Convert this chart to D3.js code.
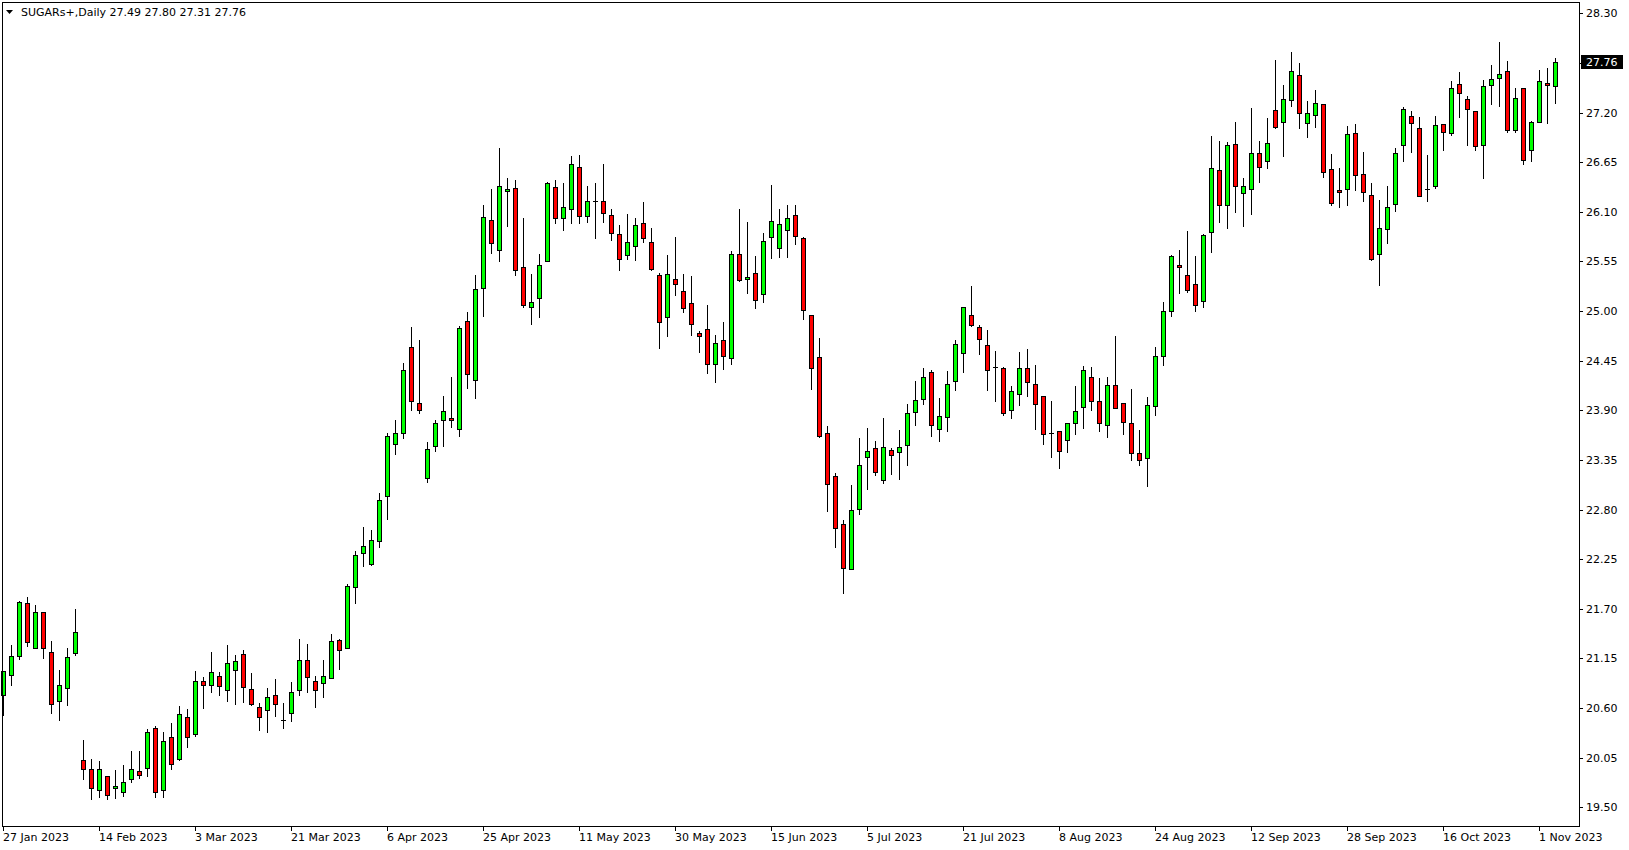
<!DOCTYPE html>
<html><head><meta charset="utf-8">
<script src="https://cdn.jsdelivr.net/npm/d3@7"></script>
<style>body{margin:0;background:#fff;overflow:hidden}svg{display:block}</style>
</head><body><svg id="c" width="1629" height="850"></svg>
<script>
const symbol = "SUGARs+,Daily";
const opens = [20.74,20.97,21.18,21.76,21.27,21.66,21.22,20.68,20.82,21.21,
20.02,19.93,19.69,19.85,19.71,19.67,19.81,19.90,19.94,20.38,
19.69,20.28,20.04,20.50,20.31,20.90,20.85,20.95,20.80,21.02,
21.20,20.81,20.61,20.58,20.75,20.47,20.55,20.80,21.13,20.90,
20.88,20.93,21.35,21.26,21.94,22.32,22.20,22.45,22.95,23.53,
23.65,24.60,23.98,23.15,23.50,23.79,23.81,23.69,24.89,24.24,
25.25,26.01,25.68,26.33,26.36,25.49,25.05,25.15,25.56,26.38,
26.03,26.13,26.60,26.05,26.22,26.22,26.06,25.85,25.62,25.72,
25.98,25.76,25.40,24.93,25.36,25.22,25.09,24.76,24.80,24.41,
24.68,24.48,25.63,25.35,25.42,25.19,25.82,25.70,25.90,26.07,
25.81,24.96,24.49,23.65,23.17,22.64,22.14,22.81,23.38,23.48,
23.13,23.46,23.44,23.51,23.88,24.03,24.33,23.69,23.83,24.23,
24.53,24.96,24.82,24.62,24.38,24.37,23.90,24.08,24.37,24.19,
24.06,23.65,23.67,23.57,23.76,23.94,24.27,24.00,23.74,24.18,
23.98,23.76,23.43,23.37,23.95,24.50,25.00,25.51,25.40,25.30,
25.11,25.88,26.56,26.17,26.85,26.31,26.35,26.75,26.66,27.23,
27.10,27.34,27.62,27.08,27.17,27.29,26.57,26.34,26.35,26.97,
26.52,26.29,25.63,25.91,26.19,26.84,27.16,27.03,26.35,26.39,
27.07,26.97,27.52,27.35,27.22,26.84,27.50,27.58,27.66,27.01,
27.47,26.79,27.09,27.53,27.49];
const highs = [21.01,21.30,21.79,21.83,21.74,21.66,21.34,21.02,21.27,21.70,
20.25,20.04,20.01,19.85,19.91,19.97,20.12,20.12,20.37,20.40,
20.34,20.43,20.62,20.59,21.01,20.94,21.22,21.00,21.30,21.19,
21.24,20.99,20.66,20.82,20.92,20.66,20.89,21.36,21.31,20.96,
21.13,21.42,21.37,21.97,22.34,22.61,22.57,22.98,23.65,23.79,
24.42,24.82,24.68,23.55,23.79,24.06,24.27,24.83,24.99,25.40,
26.18,26.35,26.81,26.47,26.45,26.03,25.41,25.63,26.43,26.45,
26.42,26.72,26.73,26.39,26.42,26.63,26.13,25.95,26.08,26.03,
26.21,25.92,25.42,25.62,25.82,25.41,25.39,24.78,25.07,24.74,
24.88,25.67,26.13,25.99,25.61,25.87,26.40,26.13,26.18,26.17,
25.82,24.96,24.70,23.73,23.21,22.68,23.07,23.59,23.70,23.56,
23.81,23.48,23.68,23.97,24.22,24.37,24.35,24.04,24.34,24.68,
25.05,25.28,24.85,24.79,24.56,24.38,24.17,24.55,24.58,24.40,
24.06,24.00,23.67,23.76,24.17,24.39,24.38,24.26,24.27,24.72,
23.98,24.14,23.68,24.05,24.60,25.10,25.62,25.68,25.89,25.61,
25.85,26.94,26.88,26.87,27.09,26.47,27.25,26.89,27.14,27.78,
27.50,27.87,27.75,27.33,27.45,27.29,26.74,26.58,27.05,27.07,
26.76,26.42,26.23,26.39,26.81,27.26,27.22,27.15,26.73,27.16,
27.07,27.55,27.65,27.38,27.22,27.56,27.73,27.98,27.77,27.47,
27.47,27.11,27.67,27.69,27.80];
const lows = [20.52,20.85,21.14,21.29,21.27,21.15,20.55,20.47,20.63,21.19,
19.81,19.59,19.61,19.59,19.60,19.62,19.78,19.83,19.85,19.61,
19.61,19.93,20.02,20.17,20.29,20.60,20.78,20.74,20.68,20.64,
20.67,20.63,20.36,20.33,20.51,20.38,20.46,20.74,20.78,20.61,
20.72,20.93,21.03,21.26,21.76,22.17,22.19,22.39,22.69,23.42,
23.59,23.90,23.87,23.10,23.45,23.50,23.71,23.61,24.15,24.04,
24.94,25.64,25.55,25.94,25.40,25.05,24.86,24.93,25.56,25.98,
25.90,25.98,25.98,25.99,25.81,25.99,25.79,25.45,25.58,25.57,
25.76,25.45,24.59,24.72,25.18,24.99,24.73,24.55,24.31,24.21,
24.36,24.41,25.33,25.20,25.03,25.10,25.59,25.60,25.60,25.74,
24.91,24.14,23.60,22.78,22.38,21.87,22.14,22.75,23.03,23.18,
23.09,23.19,23.14,23.29,23.74,23.97,23.61,23.56,23.67,24.13,
24.32,24.83,24.52,24.13,24.00,23.85,23.82,23.96,24.06,23.69,
23.53,23.38,23.26,23.44,23.64,23.70,23.90,23.67,23.60,23.92,
23.64,23.35,23.29,23.06,23.85,24.40,24.95,25.20,25.21,25.00,
25.04,25.65,25.99,25.92,26.10,25.94,26.08,26.43,26.59,27.03,
26.72,27.27,27.03,26.93,27.04,26.49,26.18,26.15,26.18,26.34,
26.22,25.57,25.29,25.75,26.11,26.66,26.76,26.28,26.22,26.36,
26.78,26.95,27.15,26.84,26.78,26.47,27.30,27.27,26.98,26.98,
26.63,26.66,27.09,27.08,27.31];
const closes = [21.01,21.18,21.78,21.33,21.66,21.26,20.64,20.86,21.17,21.44,
19.92,19.71,19.92,19.64,19.74,19.78,19.93,19.86,20.33,19.67,
20.23,19.98,20.53,20.28,20.90,20.85,21.00,20.84,21.10,21.12,
20.83,20.64,20.50,20.72,20.64,20.47,20.78,21.13,20.94,20.80,
20.95,21.34,21.24,21.95,22.30,22.40,22.46,22.91,23.61,23.65,
24.35,24.00,23.90,23.47,23.76,23.89,23.79,24.81,24.30,25.24,
26.04,25.75,26.39,26.35,25.46,25.07,25.10,25.51,26.42,26.03,
26.15,26.63,26.05,26.22,26.22,26.09,25.86,25.58,25.77,25.95,
25.81,25.47,24.88,25.41,25.30,25.03,24.86,24.72,24.41,24.65,
24.50,25.63,25.34,25.38,25.12,25.78,26.00,25.97,26.03,25.83,
25.01,24.37,23.61,23.08,22.59,22.15,22.80,23.29,23.45,23.22,
23.49,23.40,23.49,23.87,24.01,24.27,23.74,23.84,24.19,24.63,
25.05,24.85,24.69,24.35,24.38,23.87,24.11,24.37,24.21,23.97,
23.64,23.65,23.45,23.76,23.89,24.35,24.00,23.76,24.18,23.93,
23.77,23.43,23.35,23.96,24.50,25.00,25.61,25.49,25.23,25.07,
25.84,26.59,26.18,26.84,26.39,26.39,26.75,26.60,26.86,27.04,
27.35,27.66,27.19,27.19,27.31,26.54,26.20,26.32,26.96,26.51,
26.32,25.58,25.92,26.15,26.75,27.24,27.08,26.28,26.35,27.06,
26.98,27.47,27.42,27.24,26.83,27.49,27.57,27.63,27.01,27.36,
26.67,27.09,27.55,27.50,27.76];
const dateLabels = ["27 Jan 2023","14 Feb 2023","3 Mar 2023","21 Mar 2023","6 Apr 2023","25 Apr 2023","11 May 2023","30 May 2023","15 Jun 2023","5 Jul 2023","21 Jul 2023","8 Aug 2023","24 Aug 2023","12 Sep 2023","28 Sep 2023","16 Oct 2023","1 Nov 2023"];
const dateLabelBars = [0,12,24,36,48,60,72,84,96,108,120,132,144,156,168,180,192];
const priceTicks = [19.50,20.05,20.60,21.15,21.70,22.25,22.80,23.35,23.90,24.45,25.00,25.55,26.10,26.65,27.20,27.75,28.30];

const W = 1629, H = 850;
const plotLeft = 2, plotRight = 1579, plotTop = 2, plotBottom = 826;
const n = closes.length;
const svg = d3.select("#c");
svg.append("rect").attr("width", W).attr("height", H).attr("fill", "#fff");

const x = d3.scaleLinear().domain([0, n - 1]).range([3, 1555]);
const y = d3.scaleLinear().domain([19.50, 28.30]).range([807.3, 13.3]);
const FONT = "'DejaVu Sans', Verdana, sans-serif";

const g = svg.append("g").attr("shape-rendering", "crispEdges");
const bars = d3.range(n).map(i => ({i, o: opens[i], h: highs[i], l: lows[i], c: closes[i]}));
const bar = g.selectAll("g.bar").data(bars).join("g").attr("class", "bar");
bar.append("line")
  .attr("x1", d => Math.round(x(d.i)) + 0.5).attr("x2", d => Math.round(x(d.i)) + 0.5)
  .attr("y1", d => Math.round(y(d.h))).attr("y2", d => Math.round(y(d.l)) + 1)
  .attr("stroke", "#000").attr("stroke-width", 1);
bar.each(function(d) {
  const sel = d3.select(this);
  const cx = Math.round(x(d.i));
  const yt = Math.round(y(Math.max(d.o, d.c)));
  const yb = Math.round(y(Math.min(d.o, d.c)));
  if (yb - yt < 1) {
    sel.append("line").attr("x1", cx - 2).attr("x2", cx + 3)
      .attr("y1", yt + 0.5).attr("y2", yt + 0.5).attr("stroke", "#000");
  } else {
    sel.append("rect").attr("x", cx - 1.5).attr("y", yt + 0.5)
      .attr("width", 4).attr("height", yb - yt)
      .attr("fill", d.c > d.o ? "#00ff00" : "#ff0000")
      .attr("stroke", "#000").attr("stroke-width", 1);
  }
});

// frame
g.append("line").attr("x1", plotLeft + 0.5).attr("x2", plotLeft + 0.5).attr("y1", plotTop).attr("y2", plotBottom + 1).attr("stroke", "#000");
g.append("line").attr("x1", plotLeft).attr("x2", plotRight + 1).attr("y1", plotTop + 0.5).attr("y2", plotTop + 0.5).attr("stroke", "#000");
g.append("line").attr("x1", plotRight + 0.5).attr("x2", plotRight + 0.5).attr("y1", plotTop).attr("y2", plotBottom + 1).attr("stroke", "#000");
g.append("line").attr("x1", plotLeft).attr("x2", plotRight + 1).attr("y1", plotBottom + 0.5).attr("y2", plotBottom + 0.5).attr("stroke", "#000");

// price axis
const yAxis = svg.append("g");
priceTicks.forEach(p => {
  const yy = Math.round(y(p));
  yAxis.append("line").attr("x1", plotRight + 1).attr("x2", plotRight + 4).attr("y1", yy + 0.5).attr("y2", yy + 0.5)
    .attr("stroke", "#000").attr("shape-rendering", "crispEdges");
  yAxis.append("text").attr("x", plotRight + 7).attr("y", yy + 4).attr("font-family", FONT).attr("font-size", 11)
    .attr("fill", "#000").text(p.toFixed(2));
});
const last = closes[n - 1];
const ly = Math.round(y(last));
yAxis.append("rect").attr("x", plotRight + 2).attr("y", ly - 7).attr("width", 42).attr("height", 14).attr("fill", "#000");
yAxis.append("text").attr("x", plotRight + 7).attr("y", ly + 4).attr("font-family", FONT).attr("font-size", 11)
  .attr("fill", "#fff").text(last.toFixed(2));

// date axis
const xAxis = svg.append("g");
dateLabelBars.forEach((b, k) => {
  const xx = Math.round(x(b));
  xAxis.append("line").attr("x1", xx + 0.5).attr("x2", xx + 0.5).attr("y1", plotBottom + 1).attr("y2", plotBottom + 5)
    .attr("stroke", "#000").attr("shape-rendering", "crispEdges");
  xAxis.append("text").attr("x", xx).attr("y", 841).attr("font-family", FONT).attr("font-size", 11)
    .attr("fill", "#000").text(dateLabels[k]);
});

// header
svg.append("path").attr("d", "M6,10 L13,10 L9.5,14 Z").attr("fill", "#000");
svg.append("text").attr("x", 21).attr("y", 16).attr("font-family", FONT).attr("font-size", 11).attr("fill", "#000")
  .text(symbol + "  " + [opens[n-1], highs[n-1], lows[n-1], closes[n-1]].map(v => v.toFixed(2)).join(" "));
</script>
</body></html>
